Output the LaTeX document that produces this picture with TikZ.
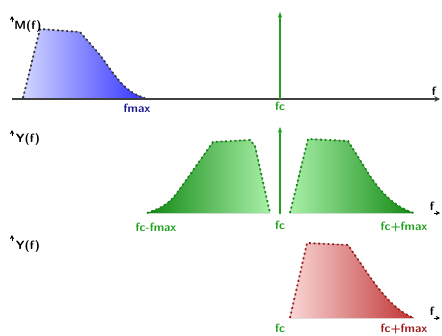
\documentclass[tikz,border=0pt]{standalone}
\usepackage{tikz}
\usetikzlibrary{arrows.meta}

\definecolor{bleuC}{HTML}{D2D6FF}
\definecolor{bleuF}{HTML}{3434FF}
\definecolor{bleuT}{HTML}{1A1A8C}
\definecolor{vertC}{HTML}{A8F0A8}
\definecolor{vertF}{HTML}{118811}
\definecolor{vertT}{HTML}{22A022}
\definecolor{rougeC}{HTML}{FAD6D6}
\definecolor{rougeF}{HTML}{C03434}
\definecolor{rougeT}{HTML}{A01C1C}

\begin{document}
\begin{tikzpicture}[x=0.025cm, y=-0.025cm,
  axe/.style={line width=1.1pt, black!75, -{Stealth[length=4pt, width=4pt]}},
  pointe/.style={black, -{Stealth[length=3pt, width=3pt]}},
  porteuse/.style={line width=1.3pt, vertT, -{Stealth[length=4pt, width=3pt]}},
  contour/.style={dotted, line width=1.3pt},
  etiq/.style={font=\sffamily\bfseries\fontsize{8.5}{10}\selectfont, inner sep=1pt}]
  \useasboundingbox (0,0) rectangle (442,336);

  % Spectre du message
  \coordinate (o1) at (12,99);
  \coordinate (e1) at (440,99);
  \fill[left color=bleuC, right color=bleuF] (23,98) -- (40,29) -- (80,32) -- (100,55)
    .. controls (118,80) and (125,92) .. (145,98) -- cycle;
  \draw[contour, black!80] (23,98) -- (40,29) -- (80,32) -- (100,55)
    .. controls (118,80) and (125,92) .. (145,98);
  \draw[axe] (o1) -- (e1);
  \draw[pointe] (12,22) -- (12,16);
  \node[etiq] (m1) at (28,27) {M(f)};
  \node[etiq] (f1) at (434,91) {f};
  \node[etiq, bleuT] (fmax) at (137,108) {fmax};
  \coordinate (p1) at (280,12);
  \node[etiq, vertT] (fc1) at (280,106) {fc};
  \draw[porteuse] (280,99) -- (p1);

  % Spectre double bande
  \fill[left color=vertF, right color=vertC] (147,213) .. controls (168,206) and (172,200) .. (182,186)
    -- (213,142) -- (250,140) -- (255,146) -- (270,213) -- cycle;
  \draw[contour, vertF] (147,213) .. controls (168,206) and (172,200) .. (182,186)
    -- (213,142) -- (250,140) -- (255,146) -- (270,213);
  \fill[left color=vertC, right color=vertF] (290,213) -- (308,139) -- (348,141) -- (370,176)
    .. controls (385,198) and (398,208) .. (414,213) -- cycle;
  \draw[contour, vertF] (290,213) -- (308,139) -- (348,141) -- (370,176)
    .. controls (385,198) and (398,208) .. (414,213);
  \coordinate (p2) at (280,127);
  \draw[porteuse] (280,214) -- (p2);
  \coordinate (o2) at (434,213);
  \coordinate (e2) at (440,213);
  \draw[pointe] (o2) -- (e2);
  \draw[pointe] (12,136) -- (12,130);
  \node[etiq] (y2) at (28,140) {Y(f)};
  \node[etiq] (f2) at (432,206) {f};
  \node[etiq, vertT] (bg) at (156,227) {fc-fmax};
  \node[etiq, vertT] (fc2) at (280,225) {fc};
  \node[etiq, vertT] (bd) at (404,227) {fc+fmax};

  % Spectre bande laterale unique
  \fill[left color=rougeC, right color=rougeF] (290,318) -- (307,243) -- (348,245) -- (370,277)
    .. controls (385,298) and (398,312) .. (414,318) -- cycle;
  \draw[contour, rougeT] (290,318) -- (307,243) -- (348,245) -- (370,277)
    .. controls (385,298) and (398,312) .. (414,318);
  \coordinate (o3) at (434,318);
  \coordinate (e3) at (440,318);
  \draw[pointe] (o3) -- (e3);
  \draw[pointe] (12,241) -- (12,235);
  \node[etiq] (y3) at (28,247) {Y(f)};
  \node[etiq] (f3) at (432,311) {f};
  \node[etiq, vertT] (fc3) at (280,328) {fc};
  \node[etiq, rougeT] (bs) at (404,329) {fc+fmax};
\end{tikzpicture}
\end{document}
